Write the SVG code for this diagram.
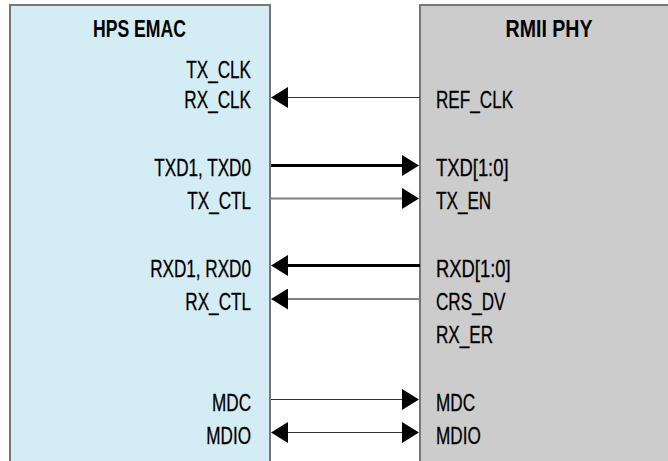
<svg xmlns="http://www.w3.org/2000/svg" width="668" height="461" viewBox="0 0 668 461">
  <defs>
    <marker id="head" markerUnits="userSpaceOnUse" markerWidth="17" markerHeight="21" refX="0" refY="10.5" orient="auto-start-reverse" viewBox="0 0 17 21">
      <path d="M0,0 L17,10.5 L0,21 Z" fill="#000"/>
    </marker>
    <style>
      .box { stroke: #777777; stroke-width: 2; }
      .emac { fill: #d4edf4; }
      .phy { fill: #cccccc; }
      .title { font-family: "Liberation Sans", Arial, sans-serif; font-weight: bold; font-size: 23px; fill: #000; text-anchor: middle; }
      .lbl { font-family: "Liberation Sans", Arial, sans-serif; font-size: 23px; fill: #000; stroke: #000; stroke-width: 0.3; }
      .l { text-anchor: end; }
      .r { text-anchor: start; }
      .thin { stroke: #333333; stroke-width: 1.2; fill: none; }
      .grey { stroke: #808080; stroke-width: 2; fill: none; }
      .bus { stroke: #000000; stroke-width: 3; fill: none; }
    </style>
  </defs>

  <!-- HPS EMAC block -->
  <g id="hps-emac">
    <rect class="box emac" x="10" y="5" width="260" height="470"/>
    <text class="title" x="139.5" y="37" textLength="93" lengthAdjust="spacingAndGlyphs">HPS EMAC</text>
    <text class="lbl l" transform="translate(251,78) scale(0.745,1)">TX_CLK</text>
    <text class="lbl l" transform="translate(251,108) scale(0.745,1)">RX_CLK</text>
    <text class="lbl l" transform="translate(251,176) scale(0.745,1)">TXD1, TXD0</text>
    <text class="lbl l" transform="translate(251,209) scale(0.745,1)">TX_CTL</text>
    <text class="lbl l" transform="translate(251,276.5) scale(0.745,1)">RXD1, RXD0</text>
    <text class="lbl l" transform="translate(251,309.5) scale(0.745,1)">RX_CTL</text>
    <text class="lbl l" transform="translate(251,410.5) scale(0.745,1)">MDC</text>
    <text class="lbl l" transform="translate(251,443.5) scale(0.745,1)">MDIO</text>
  </g>

  <!-- RMII PHY block -->
  <g id="rmii-phy">
    <rect class="box phy" x="420" y="5" width="260" height="470"/>
    <text class="title" x="549" y="37" textLength="87" lengthAdjust="spacingAndGlyphs">RMII PHY</text>
    <text class="lbl r" transform="translate(436,108) scale(0.745,1)">REF_CLK</text>
    <text class="lbl r" transform="translate(436,176) scale(0.8,1)">TXD[1:0]</text>
    <text class="lbl r" transform="translate(436,209) scale(0.745,1)">TX_EN</text>
    <text class="lbl r" transform="translate(436,276.5) scale(0.8,1)">RXD[1:0]</text>
    <text class="lbl r" transform="translate(436,309.5) scale(0.745,1)">CRS_DV</text>
    <text class="lbl r" transform="translate(436,343) scale(0.745,1)">RX_ER</text>
    <text class="lbl r" transform="translate(436,410.5) scale(0.745,1)">MDC</text>
    <text class="lbl r" transform="translate(436,443.5) scale(0.745,1)">MDIO</text>
  </g>

  <!-- Signals between the MAC and the PHY -->
  <g id="connectors">
    <line class="thin" x1="420" y1="97.5" x2="288" y2="97.5" marker-end="url(#head)"/>
    <line class="bus" x1="271" y1="165.5" x2="402" y2="165.5" marker-end="url(#head)"/>
    <line class="grey" x1="271" y1="198.5" x2="402" y2="198.5" marker-end="url(#head)"/>
    <line class="bus" x1="420" y1="265.5" x2="288" y2="265.5" marker-end="url(#head)"/>
    <line class="grey" x1="420" y1="299" x2="288" y2="299" marker-end="url(#head)"/>
    <line class="thin" x1="271" y1="399.5" x2="402" y2="399.5" marker-end="url(#head)"/>
    <line class="thin" x1="288" y1="432.5" x2="402" y2="432.5" marker-start="url(#head)" marker-end="url(#head)"/>
  </g>
</svg>
